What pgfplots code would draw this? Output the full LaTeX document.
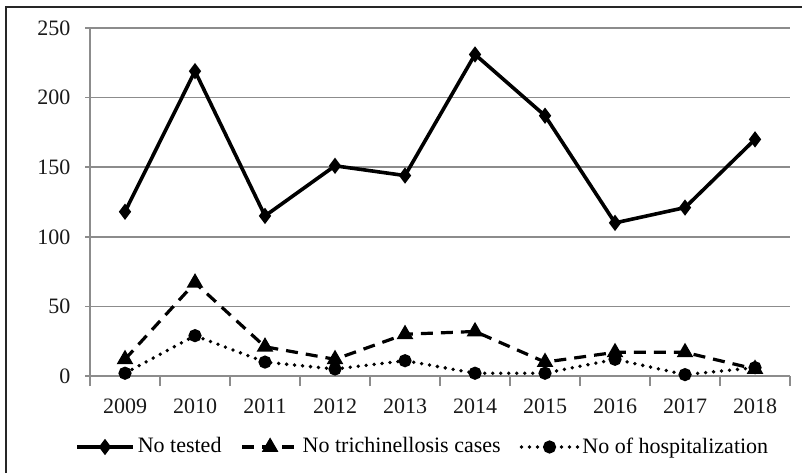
\documentclass[border=0pt]{standalone}
\usepackage{pgfplots}
\pgfplotsset{compat=1.18}
\usepackage{fontspec}
\setmainfont{Liberation Serif}
\begin{document}
\fontsize{11pt}{13pt}\selectfont
\begin{tikzpicture}
\useasboundingbox (0,0) rectangle (401pt,236.5pt);
\draw[line width=1pt, black!85] (3pt,0) -- (3pt,233pt) -- (401pt,233pt);
\begin{axis}[
  at={(45pt,48.5pt)}, anchor=south west,
  scale only axis, width=350pt, height=174pt,
  xmin=-0.5, xmax=9.5, ymin=0, ymax=250,
  axis lines*=left,
  axis line style={draw=black!45, line width=0.8pt},
  xtick={0,...,9},
  xticklabels={2009,2010,2011,2012,2013,2014,2015,2016,2017,2018},
  minor xtick={-0.5,0.5,...,9.5},
  ytick={0,50,...,250},
  tick align=outside,
  major x tick style={draw=none},
  minor tick length=5pt,
  major tick length=2.5pt,
  tick style={draw=black!45, line width=0.8pt},
  ymajorgrids, grid style={black!45, line width=0.8pt},
  xticklabel style={yshift=-5pt},
  yticklabel style={xshift=-3.5pt},
  ticklabel style={font=\fontsize{11pt}{13pt}\selectfont, text=black!90},
  /pgf/number format/assume math mode=true,
  clip=false,
  legend columns=3,
  legend style={at={(0.476,-0.204)}, anchor=center, draw=none, fill=none,
    font=\fontsize{11pt}{13pt}\selectfont,
    /tikz/every even column/.append style={column sep=8pt},
    nodes={inner sep=1.5pt}},
  legend image code/.code={\draw[mark repeat=2,mark phase=2,#1] plot coordinates {(0pt,0pt)(14pt,0pt)(28pt,0pt)};},
]
\addplot[black, line width=1.8pt, mark=diamond*, mark size=2.6pt, mark options={solid}] coordinates {
(0,118) (1,219) (2,115) (3,151) (4,144) (5,231) (6,187) (7,110) (8,121) (9,170)};
\addlegendentry{No tested}
\addplot[black, line width=1.6pt, dash pattern=on 6pt off 4pt, mark=triangle*, mark size=3.2pt, mark options={solid}] coordinates {
(0,12) (1,67) (2,21) (3,12) (4,30) (5,32) (6,10) (7,17) (8,17) (9,5)};
\addlegendentry{No trichinellosis cases}
\addplot[black, line width=1.9pt, line cap=round, dash pattern=on 0pt off 4pt, mark=*, mark size=2.3pt, mark options={solid}] coordinates {
(0,2) (1,29) (2,10) (3,5) (4,11) (5,2) (6,2) (7,12) (8,1) (9,6)};
\addlegendentry{No of hospitalization}
\end{axis}
\end{tikzpicture}
\end{document}
